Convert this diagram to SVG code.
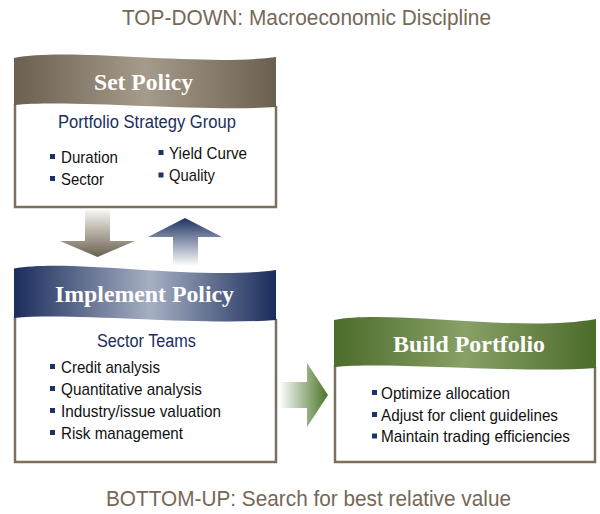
<svg xmlns="http://www.w3.org/2000/svg" width="600" height="514" viewBox="0 0 600 514">
<defs>
<linearGradient id="gBrown" x1="0" y1="0" x2="1" y2="0">
<stop offset="0" stop-color="#6b604f"/><stop offset="0.5" stop-color="#a59b8a"/><stop offset="1" stop-color="#6b604f"/>
</linearGradient>
<linearGradient id="gNavy" x1="0" y1="0" x2="1" y2="0">
<stop offset="0" stop-color="#1b2d5c"/><stop offset="0.52" stop-color="#a6afc2"/><stop offset="1" stop-color="#1b2d5c"/>
</linearGradient>
<linearGradient id="gGreen" x1="0" y1="0" x2="1" y2="0">
<stop offset="0" stop-color="#4b6c2a"/><stop offset="0.5" stop-color="#89a067"/><stop offset="1" stop-color="#4b6c2a"/>
</linearGradient>
<linearGradient id="gDown" x1="0" y1="210" x2="0" y2="257" gradientUnits="userSpaceOnUse">
<stop offset="0" stop-color="#f7f6f3"/><stop offset="1" stop-color="#6b604f"/>
</linearGradient>
<linearGradient id="gUp" x1="0" y1="218" x2="0" y2="266" gradientUnits="userSpaceOnUse">
<stop offset="0" stop-color="#1e3262"/><stop offset="1" stop-color="#ffffff"/>
</linearGradient>
<linearGradient id="gRight" x1="279" y1="0" x2="328" y2="0" gradientUnits="userSpaceOnUse">
<stop offset="0" stop-color="#ffffff"/><stop offset="1" stop-color="#4b7428"/>
</linearGradient>
</defs>
<style>
.body{fill:#ffffff;stroke:#7b6f5f;stroke-width:2.5}
.title{font-family:"Liberation Sans",Arial,sans-serif;font-size:22px;fill:#766856}
.head{font-family:"Liberation Serif","Times New Roman",serif;font-weight:bold;font-size:24px;fill:#ffffff}
.sub{font-family:"Liberation Sans",Arial,sans-serif;font-size:18px;fill:#1a2e60}
.item{font-family:"Liberation Sans",Arial,sans-serif;font-size:17px;fill:#111111}
.bul{fill:#1e3264}
</style>

<text class="title" x="122" y="25" textLength="369" lengthAdjust="spacingAndGlyphs">TOP-DOWN: Macroeconomic Discipline</text>
<text class="title" x="106" y="506" textLength="405" lengthAdjust="spacingAndGlyphs">BOTTOM-UP: Search for best relative value</text>

<g id="connectors">
<path d="M85,210 L110,210 L110,241 L135,241 L97.5,257 L60,241 L85,241 Z" fill="url(#gDown)"/>
<path d="M173,266 L173,237 L148,237 L185,218 L222,237 L198,237 L198,266 Z" fill="url(#gUp)"/>
<path d="M279,382 L307,382 L307,363 L328,395 L307,427 L307,408 L279,408 Z" fill="url(#gRight)"/>
</g>

<g id="set-policy">
<path class="body" d="M15,104 L15,207 L276,207 L276,106"/>
<path d="M14,58 C70,47 200,67 276,57 L276,107 C200,112 70,99 14,105 Z" fill="url(#gBrown)"/>
<text class="head" x="94" y="90" textLength="99" lengthAdjust="spacingAndGlyphs">Set Policy</text>
<text class="sub" x="58" y="128" textLength="178" lengthAdjust="spacingAndGlyphs">Portfolio Strategy Group</text>
<rect class="bul" x="50" y="154" width="5" height="5"/>
<text class="item" x="61" y="162.5" textLength="57" lengthAdjust="spacingAndGlyphs">Duration</text>
<rect class="bul" x="50" y="176" width="5" height="5"/>
<text class="item" x="61" y="184.5" textLength="43" lengthAdjust="spacingAndGlyphs">Sector</text>
<rect class="bul" x="158.5" y="150" width="5" height="5"/>
<text class="item" x="169" y="158.5" textLength="78" lengthAdjust="spacingAndGlyphs">Yield Curve</text>
<rect class="bul" x="158.5" y="172.5" width="5" height="5"/>
<text class="item" x="169" y="181" textLength="46" lengthAdjust="spacingAndGlyphs">Quality</text>
</g>

<g id="implement-policy">
<path class="body" d="M15,317 L15,462 L276,462 L276,319"/>
<path d="M14,268.5 C70,258 200,281 276,270 L276,320 C200,326 70,312 14,318 Z" fill="url(#gNavy)"/>
<text class="head" x="55" y="302" textLength="179" lengthAdjust="spacingAndGlyphs">Implement Policy</text>
<text class="sub" x="97" y="346.5" textLength="99" lengthAdjust="spacingAndGlyphs">Sector Teams</text>
<rect class="bul" x="50" y="364" width="5" height="5"/>
<text class="item" x="61" y="372.5" textLength="99" lengthAdjust="spacingAndGlyphs">Credit analysis</text>
<rect class="bul" x="50" y="386" width="5" height="5"/>
<text class="item" x="61" y="394.5" textLength="141" lengthAdjust="spacingAndGlyphs">Quantitative analysis</text>
<rect class="bul" x="50" y="408" width="5" height="5"/>
<text class="item" x="61" y="416.5" textLength="160" lengthAdjust="spacingAndGlyphs">Industry/issue valuation</text>
<rect class="bul" x="50" y="430" width="5" height="5"/>
<text class="item" x="61" y="438.5" textLength="122" lengthAdjust="spacingAndGlyphs">Risk management</text>
</g>

<g id="build-portfolio">
<path class="body" d="M335,366 L335,462 L595,462 L595,367"/>
<path d="M334,320 C390,309 520,333 596,319 L596,368 C520,374 390,361 334,367 Z" fill="url(#gGreen)"/>
<text class="head" x="393" y="352" textLength="152" lengthAdjust="spacingAndGlyphs">Build Portfolio</text>
<rect class="bul" x="372" y="390" width="5" height="5"/>
<text class="item" x="381" y="398.5" textLength="129" lengthAdjust="spacingAndGlyphs">Optimize allocation</text>
<rect class="bul" x="372" y="412" width="5" height="5"/>
<text class="item" x="381" y="420.5" textLength="177" lengthAdjust="spacingAndGlyphs">Adjust for client guidelines</text>
<rect class="bul" x="372" y="433.5" width="5" height="5"/>
<text class="item" x="381" y="442" textLength="189" lengthAdjust="spacingAndGlyphs">Maintain trading efficiencies</text>
</g>
</svg>
